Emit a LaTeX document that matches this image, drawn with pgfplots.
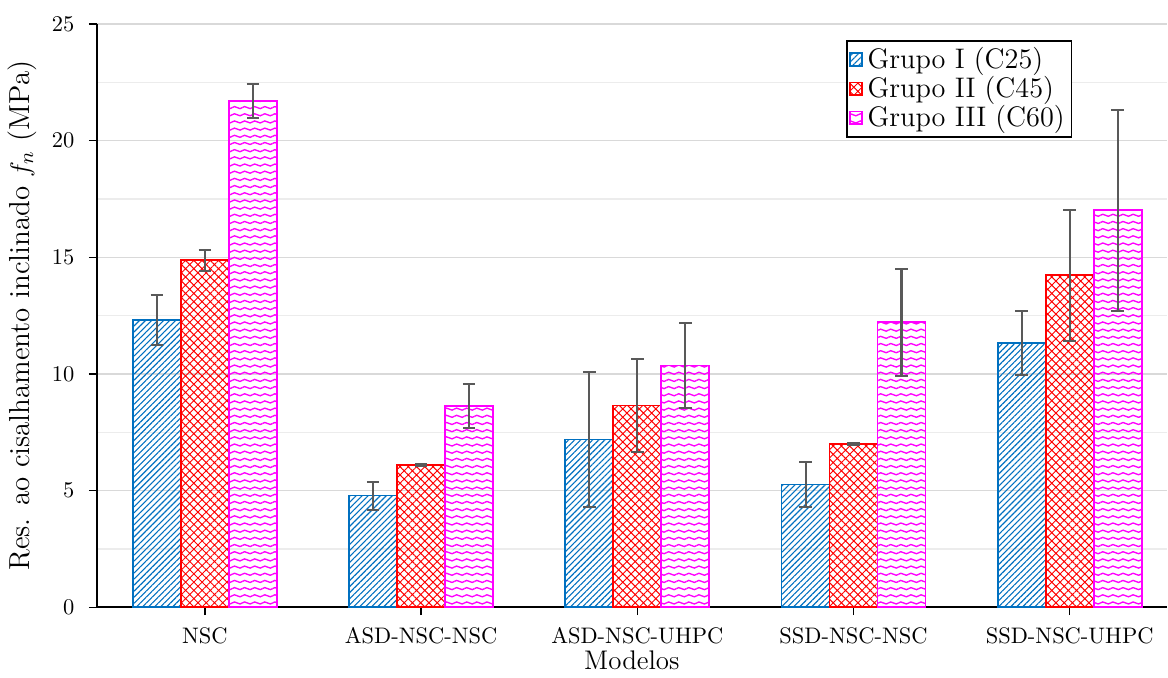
\documentclass[border=0pt]{standalone}
\usepackage{pgfplots}
\pgfplotsset{compat=1.18}
\usetikzlibrary{patterns,patterns.meta}
\definecolor{gblue}{RGB}{0,112,192}
\definecolor{gred}{RGB}{255,0,0}
\definecolor{gmag}{RGB}{255,0,255}
\definecolor{errgray}{RGB}{89,89,89}
\pgfdeclarepatternformonly{mywaves}{\pgfqpoint{-1pt}{-1pt}}{\pgfqpoint{5.5pt}{4.2pt}}{\pgfqpoint{4.5pt}{3.2pt}}{%
  \pgfsetlinewidth{0.6pt}%
  \pgfpathmoveto{\pgfqpoint{0pt}{1pt}}%
  \pgfpathcurveto{\pgfqpoint{1.1pt}{2.6pt}}{\pgfqpoint{3.4pt}{-0.6pt}}{\pgfqpoint{4.5pt}{1pt}}%
  \pgfusepath{stroke}}
\begin{document}
\begin{tikzpicture}
\begin{axis}[
  scale only axis,
  width=477pt, height=260pt,
  clip=false,
  ybar=0pt, bar width=0.222,
  xmin=-0.5, xmax=4.45,
  ymin=0, ymax=25,
  ytick={0,5,10,15,20,25},
  minor y tick num=1,
  ymajorgrids, yminorgrids,
  major grid style={gray!30, line width=0.6pt},
  minor grid style={gray!15, line width=0.6pt},
  xtick={0,1,2,3,4},
  xticklabels={NSC,ASD-NSC-NSC,ASD-NSC-UHPC,SSD-NSC-NSC,SSD-NSC-UHPC},
  axis x line=bottom, axis y line=left,
  axis line style={-, line width=0.9pt},
  tick align=outside,
  major tick length=3.5pt,
  minor tick length=0pt,
  tick style={black, line width=0.6pt},
  yticklabel style={xshift=-3pt},
  xticklabel style={yshift=-2pt},
  xlabel={\large Modelos},
  ylabel={\fontsize{12.9}{15}\selectfont Res. ao cisalhamento inclinado $f_n$ (MPa)},
  xlabel style={yshift=4pt},
  legend style={at={(rel axis cs:0.70,0.973)}, anchor=north west, draw=black, line width=0.8pt, font=\fontsize{12.6}{15}\selectfont, inner sep=1pt, row sep=-2pt, cells={anchor=west}},
  legend image code/.code={\draw[#1, line width=0.8pt] (0.5pt,-2.8pt) rectangle (6pt,2.8pt);},
  error bars/y dir=both, error bars/y explicit,
  error bars/error bar style={errgray, line width=0.9pt},
  error bars/error mark options={rotate=90, errgray, mark size=2.8pt, line width=0.9pt},
]
\addplot[draw=gblue, line width=0.8pt, pattern={Lines[angle=45,distance=1.9pt,line width=0.5pt]}, pattern color=gblue]
coordinates {(0,12.31) +- (0,1.07) (1,4.79) +- (0,0.60) (2,7.19) +- (0,2.88) (3,5.26) +- (0,0.96) (4,11.32) +- (0,1.37)};
\addplot[draw=gred, line width=0.8pt, pattern={Hatch[angle=45,distance=2.6pt,line width=0.45pt]}, pattern color=gred]
coordinates {(0,14.87) +- (0,0.45) (1,6.11) +- (0,0.05) (2,8.65) +- (0,2.00) (3,7.01) +- (0,0.05) (4,14.23) +- (0,2.81)};
\addplot[draw=gmag, line width=0.8pt, pattern=mywaves, pattern color=gmag]
coordinates {(0,21.71) +- (0,0.73) (1,8.63) +- (0,0.94) (2,10.36) +- (0,1.82) (3,12.22) +- (0,2.29) (4,17.02) +- (0,4.30)};
\legend{Grupo I (C25),Grupo II (C45),Grupo III (C60)}
\path ([shift={(-42.2pt,-29.3pt)}]rel axis cs:0,0) -- ([shift={(0pt,10.7pt)}]rel axis cs:1,1);
\end{axis}
\end{tikzpicture}
\end{document}
